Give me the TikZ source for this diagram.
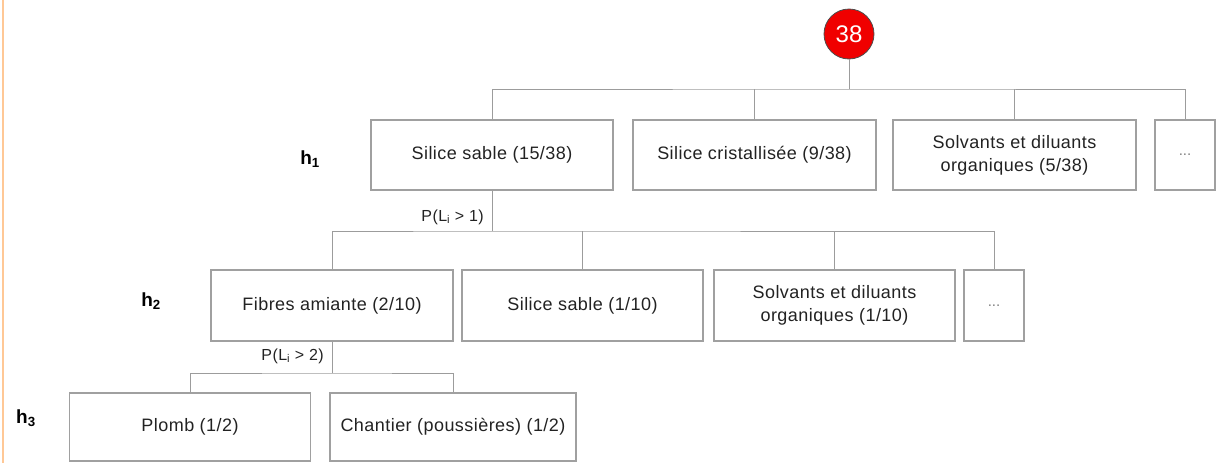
\documentclass[tikz,border=0pt]{standalone}
\usepackage{fontspec}
\setmainfont{Liberation Sans}
\newfontfamily\boxfont[LetterSpace=2.5]{Liberation Sans}
\definecolor{linegray}{HTML}{9C9C9C}
\definecolor{boxgray}{HTML}{A0A0A0}
\definecolor{orangeline}{HTML}{FFC896}
\definecolor{redfill}{HTML}{F00000}
\definecolor{textc}{HTML}{222222}
\begin{document}
\begin{tikzpicture}[x=1pt,y=-1pt,
  box/.style={draw=boxgray, line width=1.2pt, inner sep=0pt, align=center,
    text=textc, font={\boxfont\fontsize{18}{23}\selectfont}},
  lvla/.style={box, minimum height=70pt},
  lvlb/.style={box, minimum height=71pt},
  lvlc/.style={box, minimum height=68pt},
  dotsbox/.style={text=gray, font={\fontsize{15}{18}\selectfont}},
  conn/.style={draw=linegray, line width=1pt},
  plabel/.style={text=textc, font={\boxfont\fontsize{16}{18}\selectfont}, inner sep=0pt},
  hlabel/.style={text=black, font={\bfseries\fontsize{19}{22}\selectfont}, inner sep=0pt}
]
\useasboundingbox (0,0) rectangle (1216,463);
% orange left rule
\draw[orangeline, line width=1.5pt] (3,0) -- (3,463);

% root
\node[circle, draw=black!70, line width=0.8pt, fill=redfill, minimum size=50pt, inner sep=0pt,
  text=white, font={\fontsize{24}{26}\selectfont}] (root) at (849,34) {38};

% level 1
\node[lvla, minimum width=242pt] (A1) at (492,155) {Silice sable (15/38)};
\node[lvla, minimum width=243pt] (A2) at (754.5,155) {Silice cristallisée (9/38)};
\node[lvla, minimum width=243pt] (A3) at (1014.5,155) {Solvants et diluants\\organiques (5/38)};
\node[lvla, minimum width=60pt, dotsbox] (A4) at (1185,155) {...};

% level 2
\node[lvlb, minimum width=242pt] (B1) at (332,305.5) {Fibres amiante (2/10)};
\node[lvlb, minimum width=241pt] (B2) at (582.5,305.5) {Silice sable (1/10)};
\node[lvlb, minimum width=241pt] (B3) at (834.5,305.5) {Solvants et diluants\\organiques (1/10)};
\node[lvlb, minimum width=60pt, dotsbox] (B4) at (994,305.5) {...};

% level 3
\node[lvlc, minimum width=241pt] (C1) at (190,427) {Plomb (1/2)};
\node[lvlc, minimum width=246pt] (C2) at (453,427) {Chantier (poussières) (1/2)};

% bus coordinates
\coordinate (bus1) at (849,89);
\coordinate (bus2) at (492,231);
\coordinate (bus3) at (332,373);

% connectors level 1
\draw[conn] (root) -- (bus1);
\draw[conn] (A1.north) |- (bus1) -| (A4.north);
\draw[conn] (A2.north) -- (A2.north |- bus1);
\draw[conn] (A3.north) -- (A3.north |- bus1);

% connectors level 2
\draw[conn] (A1.south) -- (bus2);
\draw[conn] (B1.north) |- (bus2) -| (B4.north);
\draw[conn] (B2.north) -- (B2.north |- bus2);
\draw[conn] (B3.north) -- (B3.north |- bus2);

% connectors level 3
\draw[conn] (B1.south) -- (bus3);
\draw[conn] (C1.north) |- (bus3) -| (C2.north);

% probability labels
\node[plabel, anchor=east] (p1) at (484,217) {P(L\textsubscript{i} > 1)};
\node[plabel, anchor=east] (p2) at (324,356) {P(L\textsubscript{i} > 2)};

% level labels
\node[hlabel] (h1) at (310,159) {h\textsubscript{1}};
\node[hlabel] (h2) at (151,301) {h\textsubscript{2}};
\node[hlabel] (h3) at (26,418) {h\textsubscript{3}};
\end{tikzpicture}
\end{document}
